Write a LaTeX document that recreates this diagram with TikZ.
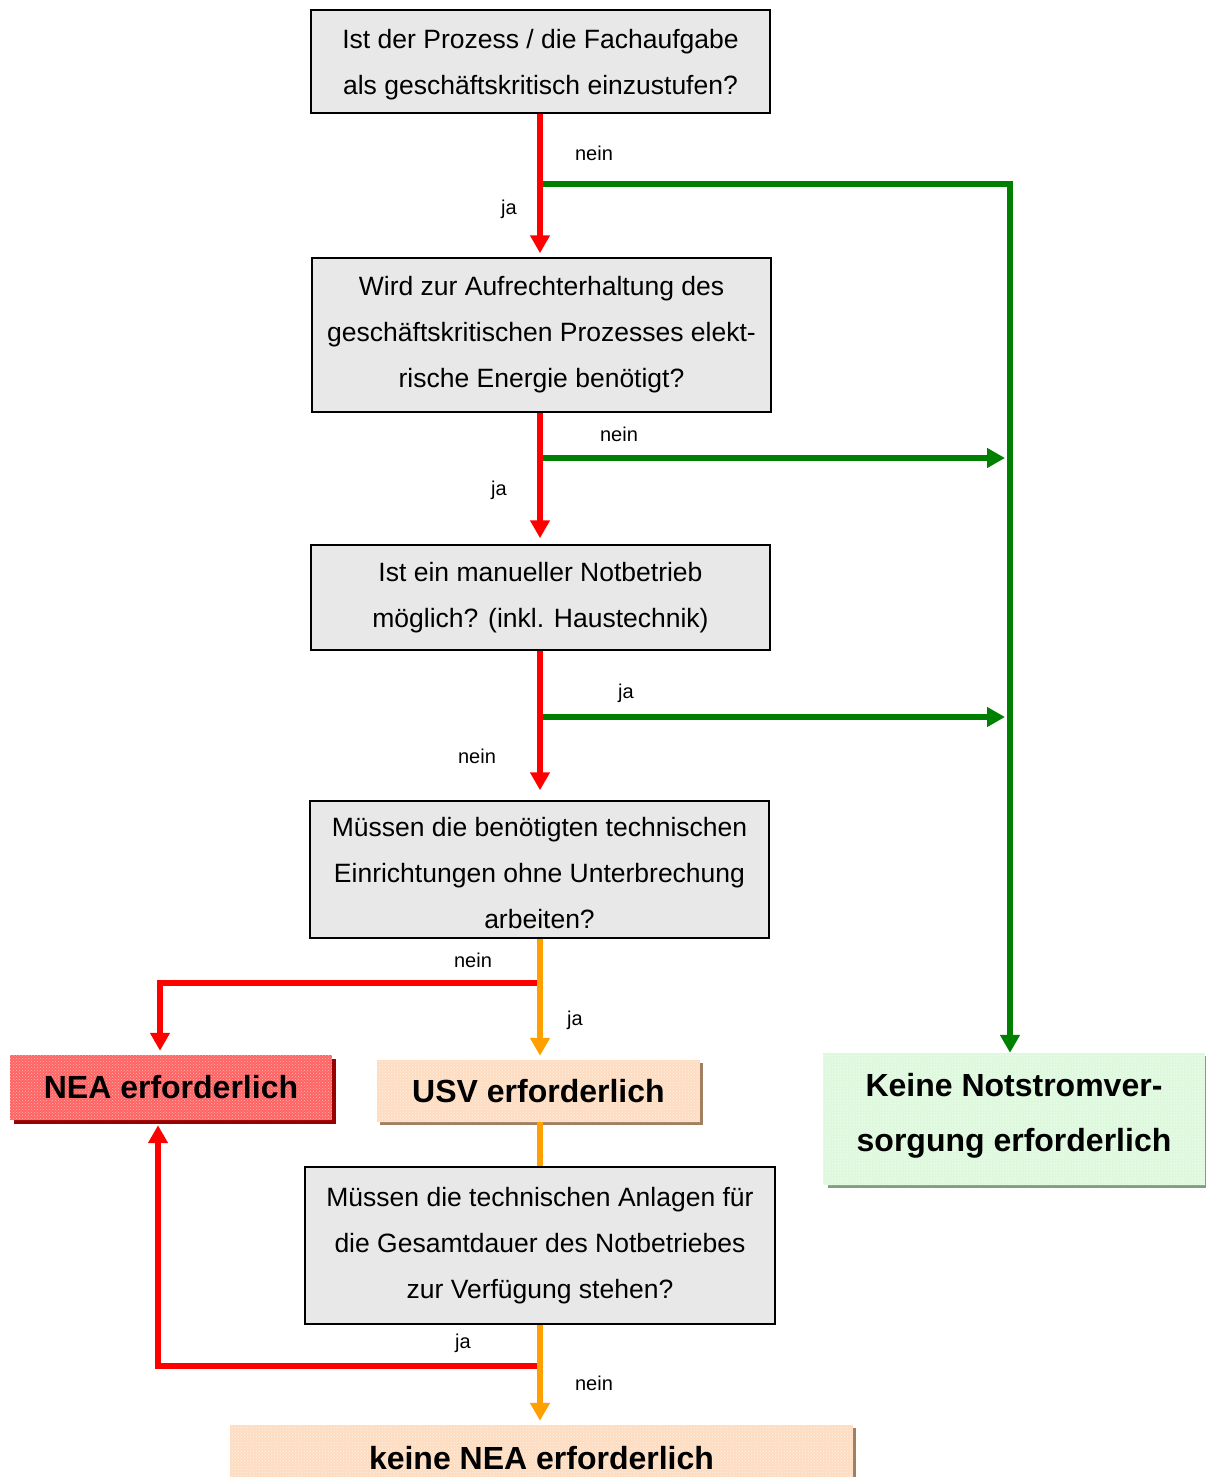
\documentclass[tikz,border=0pt]{standalone}
\usepackage{fontspec}
\setmainfont{Liberation Sans}
\usetikzlibrary{arrows.meta,patterns,shadows}
\definecolor{cred}{HTML}{FF0000}
\definecolor{cgreen}{HTML}{008000}
\definecolor{corange}{HTML}{FFA000}
\definecolor{boxgray}{HTML}{E8E8E8}
\definecolor{neafill}{HTML}{FF6464}
\definecolor{neapat}{HTML}{FFB4B4}
\definecolor{neashadow}{HTML}{990000}
\definecolor{usvfill}{HTML}{FDDCC0}
\definecolor{usvpat}{HTML}{FFF2E8}
\definecolor{usvshadow}{HTML}{A08060}
\definecolor{okfill}{HTML}{DDF8DD}
\definecolor{okpat}{HTML}{F4FFF4}
\definecolor{okshadow}{HTML}{7F9F7F}
\begin{document}
\begin{tikzpicture}[x=1pt,y=-1pt,
  qbox/.style={draw=black, line width=1.5pt, fill=boxgray, align=center, inner sep=0pt,
    font=\fontsize{26.5}{46}\selectfont},
  resbox/.style={align=center, inner sep=0pt, font=\fontsize{32}{55}\selectfont\bfseries},
  lab/.style={font=\fontsize{20}{24}\selectfont, inner sep=0pt},
  conn/.style={line width=5.5pt},
  ar/.style={conn, -{Triangle[length=18pt,width=19pt]}}
]
\useasboundingbox (0,0) rectangle (1205,1477);

% question boxes
\node[qbox, minimum width=459, minimum height=103] (b1) at (540.5,61.5)
  {\rule{0pt}{26pt}Ist der Prozess / die Fachaufgabe\\als geschäftskritisch einzustufen?};
\node[qbox, minimum width=459, minimum height=154] (b2) at (541.5,335)
  {Wird zur Aufrechterhaltung des\\geschäftskritischen Prozesses elekt-\\rische Energie benötigt?};
\node[qbox, minimum width=459, minimum height=105] (b3) at (540.5,597.5)
  {Ist ein manueller Notbetrieb\\möglich? (inkl. Haustechnik)};
\node[qbox, minimum width=459, minimum height=137] (b4) at (539.5,869.5)
  {\rule{0pt}{26pt}Müssen die benötigten technischen\\Einrichtungen ohne Unterbrechung\\arbeiten?};
\node[qbox, minimum width=470, minimum height=157] (b5) at (540,1245.5)
  {Müssen die technischen Anlagen für\\die Gesamtdauer des Notbetriebes\\zur Verfügung stehen?};

% result boxes
\node[resbox, minimum width=322, minimum height=65, fill=neafill,
  postaction={pattern=crosshatch dots, pattern color=neapat},
  drop shadow={shadow xshift=4pt, shadow yshift=-4pt, fill=neashadow, opacity=1}]
  (nea) at (171,1087.5) {NEA erforderlich};
\node[resbox, minimum width=323, minimum height=62, fill=usvfill,
  postaction={pattern=crosshatch dots, pattern color=usvpat},
  drop shadow={shadow xshift=3pt, shadow yshift=-3pt, fill=usvshadow, opacity=1}]
  (usv) at (538.5,1091) {USV erforderlich};
\node[resbox, minimum width=382, minimum height=132, fill=okfill,
  postaction={pattern=crosshatch dots, pattern color=okpat},
  drop shadow={shadow xshift=5pt, shadow yshift=-3pt, fill=okshadow, opacity=1}]
  (ok) at (1014,1119) {Keine Notstromver-\\sorgung erforderlich\rule[-13pt]{0pt}{0pt}};
\node[resbox, minimum width=623, minimum height=66, fill=usvfill,
  postaction={pattern=crosshatch dots, pattern color=usvpat},
  drop shadow={shadow xshift=3pt, shadow yshift=-3pt, fill=usvshadow, opacity=1}]
  (fin) at (541.5,1458) {keine NEA erforderlich};

% junction coordinates
\coordinate (j1) at (540,184);
\coordinate (g1) at (1010,184);
\coordinate (j2) at (540,458);
\coordinate (t2) at (1005,458);
\coordinate (j3) at (540,717);
\coordinate (t3) at (1005,717);
\coordinate (j4) at (540,983);
\coordinate (c4) at (160,983);
\coordinate (j5) at (540,1366);
\coordinate (c5) at (158,1366);

% green connectors
\draw[ar, cgreen] (j1) -- (g1) -- (g1 |- ok.north);
\draw[ar, cgreen] (j2) -- (t2);
\draw[ar, cgreen] (j3) -- (t3);

% red connectors
\draw[ar, cred, shorten >=4pt] (b1.south -| j1) -- (b2.north -| j1);
\draw[ar, cred, shorten >=6pt] (b2.south -| j1) -- (b3.north -| j1);
\draw[ar, cred, shorten >=10pt] (b3.south -| j1) -- (b4.north -| j1);
\draw[ar, cred, shorten >=4pt] (j4) -- (c4) -- (c4 |- nea.north);
\draw[ar, cred, shorten >=5pt] (j5) -- (c5) -- (c5 |- nea.south);

% orange connectors
\draw[ar, corange, shorten >=4pt] (b4.south -| j4) -- (usv.north -| j4);
\draw[conn, corange] (usv.south -| j4) -- (b5.north -| j4);
\draw[ar, corange, shorten >=4pt] (b5.south -| j4) -- (fin.north -| j4);

% labels
\node[lab] (l1) at (594,153) {nein};
\node[lab] (l2) at (509,209) {ja};
\node[lab] (l3) at (619,434) {nein};
\node[lab] (l4) at (499,490) {ja};
\node[lab] (l5) at (626,693) {ja};
\node[lab] (l6) at (477,756) {nein};
\node[lab] (l7) at (473,960) {nein};
\node[lab] (l8) at (575,1020) {ja};
\node[lab] (l9) at (463,1343) {ja};
\node[lab] (l10) at (594,1383) {nein};
\end{tikzpicture}
\end{document}
